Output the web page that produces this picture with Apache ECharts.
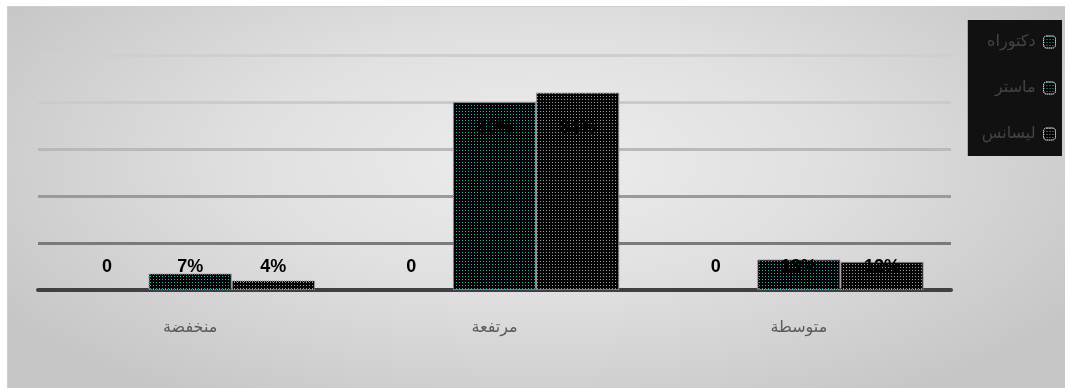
<!DOCTYPE html>
<html>
<head>
<meta charset="utf-8">
<script src="https://cdn.jsdelivr.net/npm/echarts@6/dist/echarts.min.js"></script>
<style>
html,body{margin:0;padding:0;background:#fff;}
#bg{position:absolute;left:7px;top:6px;width:1058px;height:382px;border-top:1px solid #cfcfcf;border-left:1px solid #cfcfcf;box-sizing:border-box;
background:radial-gradient(ellipse 60% 75% at 50% 40%, #ededed 0%, #e0e0e0 45%, #c6c6c6 100%);}
#chart{position:absolute;left:0;top:0;width:1065px;height:388px;}
</style>
</head>
<body>
<div id="bg"></div>
<div id="chart"></div>
<script>
const categories = ['منخفضة', 'مرتفعة', 'متوسطة'];
const seriesNames = ['دكتوراه', 'ماستر', 'ليسانس'];
const doctorate = [0, 0, 0];
const master = [7, 80, 13];
const licence = [4, 84, 12];
const yTicks = [0, 20, 40, 60, 80, 100];

const dotColors = ['#2fb0b0', '#2fb0b0', '#9c9c9c'];
const seriesValues = [doctorate, master, licence];

function buildData(vals) {
  return vals.map((v, i) => ({
    value: v,
    label: { distance: v > 50 ? 153 : 14 }
  }));
}

function decalFor(si) {
  return {
    symbol: 'rect',
    symbolSize: 1,
    color: dotColors[si],
    backgroundColor: 'transparent',
    dashArrayX: [[1, 2]],
    dashArrayY: [1, 2]
  };
}

const chart = echarts.init(document.getElementById('chart'), null, {renderer: 'canvas'});
chart.setOption({
  backgroundColor: 'transparent',
  animation: false,
  grid: { left: 38, right: 114, top: 55, bottom: 98, containLabel: false },
  legend: {
    orient: 'vertical',
    right: 3,
    top: 20,
    backgroundColor: '#111111',
    padding: [14, 6, 14, 14],
    itemGap: 30,
    itemWidth: 12,
    itemHeight: 12,
    align: 'right',
    textStyle: { color: '#444444', fontSize: 16, fontFamily: 'DejaVu Sans', padding: [0, 3, 0, 0] },
    data: seriesNames.map((n, si) => ({
      name: n,
      itemStyle: { color: '#050505', borderColor: '#e0e0e0', borderWidth: 1, borderType: 'dotted', decal: decalFor(si) }
    }))
  },
  xAxis: {
    type: 'category',
    data: categories,
    axisLine: { lineStyle: { color: '#404040', width: 4 } },
    axisTick: { show: false },
    axisLabel: { margin: 30, color: '#595959', fontSize: 16, fontFamily: 'DejaVu Sans' }
  },
  yAxis: {
    type: 'value',
    min: yTicks[0],
    max: yTicks[yTicks.length - 1],
    interval: yTicks[1] - yTicks[0],
    axisLabel: { show: false },
    axisLine: { show: false },
    axisTick: { show: false },
    splitLine: { lineStyle: { color: ['#404040', '#7a7a7a', '#9a9a9a', '#b9b9b9', '#cbcbcb', '#cfcfcf'], width: 3 } }
  },
  series: seriesNames.map((name, si) => ({
    name: name,
    type: 'bar',
    barGap: '0%',
    barCategoryGap: '18%',
    data: buildData(seriesValues[si]),
    itemStyle: {
      color: '#050505',
      borderColor: '#9a9a9a',
      borderWidth: si === 0 ? 0 : 1,
      borderType: 'dotted',
      decal: decalFor(si)
    },
    label: {
      show: true,
      position: 'insideBottom',
      color: '#000',
      fontSize: 18,
      fontWeight: 'bold',
      fontFamily: 'Liberation Sans',
      formatter: p => p.value === 0 ? '0' : p.value + '%'
    }
  }))
});
</script>
</body>
</html>
